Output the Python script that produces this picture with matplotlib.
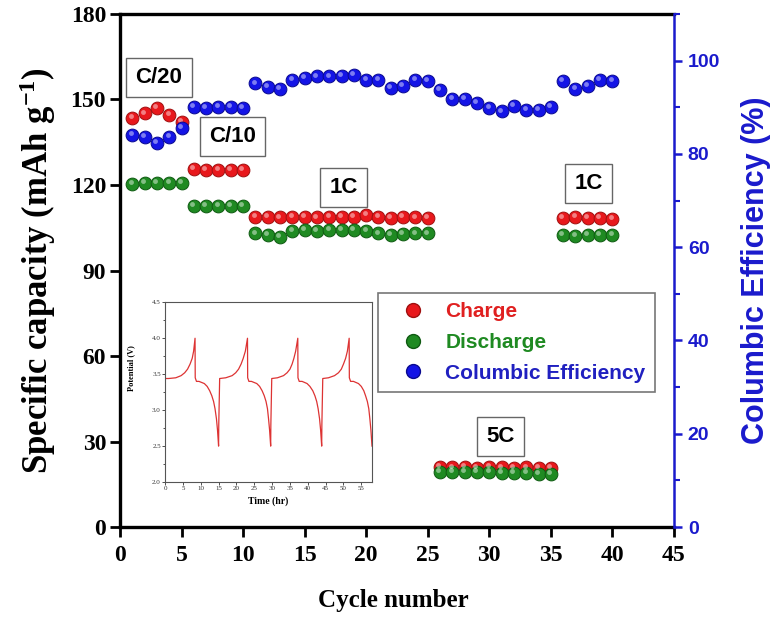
import matplotlib
matplotlib.use("Agg")
import matplotlib.pyplot as plt
from matplotlib.transforms import offset_copy
from matplotlib.lines import Line2D
from matplotlib.ticker import MultipleLocator

plt.rcParams["mathtext.default"] = "regular"

# Cycling data
cycles = list(range(1, 41))

charge = [143.4, 145.1, 146.9, 144.6, 142.2,
          125.5, 125.3, 125.4, 125.2, 125.3,
          108.7, 108.9, 108.6, 108.8, 108.7, 108.6, 108.8, 108.9, 108.8, 109.4,
          108.7, 108.5, 108.9, 108.6, 108.3,
          21.0, 20.9, 21.0, 20.8, 21.1, 20.9, 20.8, 20.9, 20.7, 20.6,
          108.3, 108.8, 108.5, 108.4, 108.0]

discharge = [120.5, 120.6, 120.7, 120.6, 120.8,
             112.8, 112.6, 112.7, 112.5, 112.6,
             103.0, 102.5, 101.8, 104.0, 104.2, 104.0, 104.2, 104.3, 104.1, 104.0,
             103.0, 102.5, 102.8, 103.0, 103.0,
             19.4, 19.3, 19.2, 19.2, 19.3, 18.9, 18.9, 18.8, 18.6, 18.5,
             102.4, 102.0, 102.5, 102.6, 102.4]

efficiency = [84.0, 83.7, 82.3, 83.7, 85.5,
              90.1, 89.8, 90.0, 90.1, 89.9,
              95.1, 94.4, 94.0, 95.9, 96.3, 96.6, 96.6, 96.8, 97.0, 95.9,
              95.9, 94.1, 94.6, 95.9, 95.7,
              93.8, 91.8, 91.8, 90.9, 89.8, 89.1, 90.2, 89.5, 89.5, 90.1,
              95.6, 93.9, 94.6, 95.9, 95.6]

# Rate labels (text, cycle, capacity)
rate_labels = ["C/20", "C/10", "1C", "1C", "5C"]
rate_x = [3.17, 9.14, 18.16, 38.06, 30.95]
rate_y = [157.7, 137.0, 119.1, 120.5, 31.75]

# Charge/discharge voltage profile for the inset
inset_time = [0.0, 0.05, 1.0, 3.0, 4.5, 5.5, 6.3, 7.0, 7.6, 8.0, 8.4,
              8.45, 8.8, 9.5, 11.0, 11.8, 12.5, 13.1, 13.6, 14.0, 14.4, 14.7, 15.0, 15.05,
              15.3, 17.0, 18.8, 19.8, 20.6, 21.3, 21.9, 22.5, 23.1,
              23.15, 23.5, 24.2, 25.7, 26.5, 27.2, 27.8, 28.3, 28.7, 29.0, 29.3, 29.6, 29.65,
              29.9, 31.5, 33.2, 34.2, 35.0, 35.6, 36.1, 36.6, 37.2,
              37.25, 37.6, 38.4, 39.8, 40.6, 41.4, 42.0, 42.5, 42.9, 43.3, 43.6, 43.9, 43.95,
              44.2, 45.8, 47.5, 48.6, 49.4, 50.0, 50.6, 51.1, 51.6,
              51.65, 52.0, 52.8, 54.2, 55.0, 55.7, 56.2, 56.7, 57.1, 57.4, 57.7, 58.0]
inset_volt = [3.20, 3.44, 3.44, 3.45, 3.48, 3.52, 3.57, 3.64, 3.72, 3.82, 4.00,
              3.45, 3.40, 3.40, 3.37, 3.33, 3.27, 3.20, 3.12, 3.02, 2.88, 2.72, 2.50, 2.80,
              3.44, 3.45, 3.48, 3.52, 3.57, 3.64, 3.72, 3.82, 4.00,
              3.45, 3.40, 3.40, 3.37, 3.33, 3.27, 3.20, 3.12, 3.02, 2.88, 2.72, 2.50, 2.80,
              3.44, 3.45, 3.48, 3.52, 3.57, 3.64, 3.72, 3.82, 4.00,
              3.45, 3.40, 3.40, 3.37, 3.33, 3.27, 3.20, 3.12, 3.02, 2.88, 2.72, 2.50, 2.80,
              3.44, 3.45, 3.48, 3.52, 3.57, 3.64, 3.72, 3.82, 4.00,
              3.45, 3.40, 3.40, 3.37, 3.33, 3.27, 3.20, 3.12, 3.02, 2.88, 2.72, 2.50]

red = "#e8181c"
green = "#1f8a22"
blue = "#1414e6"
axis_blue = "#1a1acc"

serif = "Liberation Serif"
sans = "Liberation Sans"

fig = plt.figure(figsize=(7.75, 6.22), dpi=100)
ax = fig.add_axes([0.1548, 0.1527, 0.7148, 0.8248])
ax2 = ax.twinx()


def draw_balls(axis, x, y, color, edge):
    # glossy-looking sphere markers: base disc + small highlight
    axis.plot(x, y, "o", ms=9.2, mfc=color, mec=edge, mew=0.7, ls="none", zorder=3)
    shine = offset_copy(axis.transData, fig=fig, x=-1.2, y=1.4, units="points")
    axis.plot(x, y, "o", ms=3.5, mfc="white", mec="none", alpha=0.45,
              ls="none", transform=shine, zorder=4)


draw_balls(ax, cycles, charge, red, "#a01010")
draw_balls(ax, cycles, discharge, green, "#0f5a12")
draw_balls(ax2, cycles, efficiency, blue, "#0a0a90")

ax.set_xlim(0, 45)
ax.set_ylim(0, 180)
ax2.set_ylim(0, 110)
ax.set_xticks(range(0, 46, 5))
ax.set_yticks(range(0, 181, 30))
ax2.set_yticks(range(0, 101, 20))
ax2.yaxis.set_minor_locator(MultipleLocator(10))

for side in ["left", "bottom", "top"]:
    ax.spines[side].set_linewidth(2.4)
    ax.spines[side].set_color("black")
ax.spines["right"].set_visible(False)
for side in ["left", "bottom", "top"]:
    ax2.spines[side].set_visible(False)
ax2.spines["right"].set_color(axis_blue)
ax2.spines["right"].set_linewidth(1.8)

ax.tick_params(axis="both", direction="out", length=7, width=2, pad=3)
ax.tick_params(axis="x", pad=6)
ax.tick_params(top=False, right=False)
for lab in ax.get_xticklabels() + ax.get_yticklabels():
    lab.set_fontfamily(serif)
    lab.set_fontweight("bold")
    lab.set_fontsize(17)

ax2.tick_params(axis="y", which="major", direction="out", length=6, width=1.8,
                colors=axis_blue, pad=4)
ax2.tick_params(axis="y", which="minor", direction="out", length=4, width=1.5,
                colors=axis_blue)
for lab in ax2.get_yticklabels():
    lab.set_fontfamily(sans)
    lab.set_fontweight("bold")
    lab.set_fontsize(14)

fig.text(0.508, 0.035, "Cycle number", ha="center", va="center",
         fontfamily=serif, fontweight="bold", fontsize=18)
fig.text(0.049, 0.565, "Specific capacity (mAh g$^{-1}$)", rotation=90,
         ha="center", va="center", fontfamily=serif, fontweight="bold", fontsize=25)
fig.text(0.976, 0.566, "Columbic Efficiency (%)", rotation=90, ha="center",
         va="center", fontfamily=sans, fontweight="bold", fontsize=22, color=axis_blue)

# Rate annotations
for text, x, y in zip(rate_labels, rate_x, rate_y):
    ax.text(x, y, text, ha="center", va="center", fontfamily=sans,
            fontweight="bold", fontsize=16, zorder=5,
            bbox=dict(boxstyle="square,pad=0.42", fc="white", ec="#666666", lw=1.0))

# Legend
handles = [
    Line2D([], [], marker="o", ls="none", ms=10, mfc=red, mec="#a01010"),
    Line2D([], [], marker="o", ls="none", ms=10, mfc=green, mec="#0f5a12"),
    Line2D([], [], marker="o", ls="none", ms=10, mfc=blue, mec="#0a0a90"),
]
leg = ax2.legend(handles, ["Charge", "Discharge", "Columbic Efficiency"],
                 loc="upper left", bbox_to_anchor=(0.466, 0.456), fancybox=False,
                 edgecolor="#777777", framealpha=1,
                 labelcolor=["#e02020", "#1f8a22", "#2020c0"],
                 prop={"family": sans, "weight": "bold", "size": 15},
                 handletextpad=0.32, labelspacing=0.56, borderpad=0.45,
                 handlelength=2.45, borderaxespad=0)
leg.get_frame().set_linewidth(1.2)

# Inset: voltage profile
axin = fig.add_axes([0.213, 0.225, 0.267, 0.289])
axin.plot(inset_time, inset_volt, color="#dd3333", lw=0.9)
axin.set_xlim(0, 58)
axin.set_ylim(2.0, 4.5)
axin.set_xticks(range(0, 56, 5))
axin.set_yticks([2.0, 2.5, 3.0, 3.5, 4.0, 4.5])
axin.yaxis.set_minor_locator(MultipleLocator(0.25))
axin.tick_params(axis="both", which="both", direction="out", length=2, width=0.6,
                 labelsize=5, pad=1, colors="#333333")
axin.tick_params(axis="y", which="minor", length=1.2)
for lab in axin.get_xticklabels() + axin.get_yticklabels():
    lab.set_fontfamily(serif)
for sp in axin.spines.values():
    sp.set_color("#555555")
    sp.set_linewidth(0.8)
axin.set_xlabel("Time (hr)", fontfamily=serif, fontweight="bold", fontsize=7, labelpad=4)
axin.set_ylabel("Potential (V)", fontfamily=serif, fontweight="bold", fontsize=6)
axin.yaxis.set_label_coords(-0.145, 0.633)

fig.savefig("out.png", dpi=100)
